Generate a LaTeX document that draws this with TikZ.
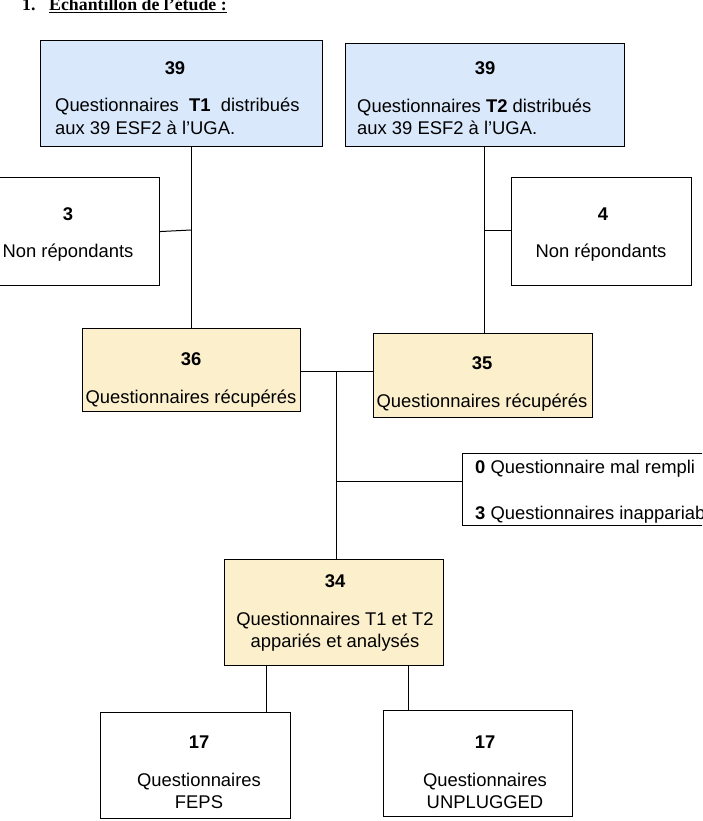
\documentclass[tikz,border=0pt]{standalone}
\usepackage{fontspec}
\setmainfont{Liberation Sans}
\newfontfamily\titlefont{Liberation Serif}
\usetikzlibrary{positioning}
\definecolor{boxblue}{HTML}{DAE8FC}
\definecolor{boxtan}{HTML}{FCEFCC}
\newcommand\boxsize{\fontsize{18.4}{23}\selectfont}
\tikzset{
  box/.style={draw, line width=1.1pt, inner sep=0pt, anchor=north west},
  bluebox/.style={box, fill=boxblue},
  tanbox/.style={box, fill=boxtan},
  txt/.style={anchor=base, inner sep=0pt, font=\boxsize},
  ltxt/.style={anchor=base west, inner sep=0pt, font=\boxsize},
  num/.style={txt, font=\boxsize\bfseries},
  link/.style={line width=1pt}
}
\begin{document}
\begin{tikzpicture}[x=1pt, y=-1pt]
  \useasboundingbox (0,0) rectangle (702,821);
  \clip (0,0) rectangle (702,821);
  \node[ltxt, font=\titlefont\bfseries\fontsize{17.8}{23}\selectfont] (titlenum) at (22,11) {1.};
  \node[ltxt, font=\titlefont\bfseries\fontsize{17.8}{23}\selectfont] (title) at (49,11) {\underline{Échantillon de l’étude :}};

  \node[bluebox, minimum width=282, minimum height=106] (t1) at (40,40) {};
  \node[num] (t1num) at (175,75) {39};
  \node[ltxt] (t1a) at (55,112) {Questionnaires\ \ \textbf{T1}\ \ distribués};
  \node[ltxt] (t1b) at (55,135) {aux 39 ESF2 à l’UGA.};

  \node[bluebox, minimum width=279, minimum height=103] (t2) at (345,43) {};
  \node[num] (t2num) at (485,75) {39};
  \node[ltxt] (t2a) at (357,113) {Questionnaires \textbf{T2} distribués};
  \node[ltxt] (t2b) at (357,135) {aux 39 ESF2 à l’UGA.};

  \node[box, minimum width=161, minimum height=108] (nr1) at (-2,177) {};
  \node[num] (nr1num) at (68,220) {3};
  \node[txt] (nr1txt) at (68,257) {Non répondants};

  \node[box, minimum width=180, minimum height=108] (nr2) at (511,177) {};
  \node[num] (nr2num) at (603,220) {4};
  \node[txt] (nr2txt) at (601,257) {Non répondants};

  \node[tanbox, minimum width=218, minimum height=83] (r36) at (82,328) {};
  \node[num] (r36num) at (191,365) {36};
  \node[txt] (r36txt) at (191,403) {Questionnaires récupérés};

  \node[tanbox, minimum width=219, minimum height=84] (r35) at (373,333) {};
  \node[num] (r35num) at (482,369) {35};
  \node[txt] (r35txt) at (482,407) {Questionnaires récupérés};

  \node[box, minimum width=320, minimum height=72] (excl) at (462,453) {};
  \node[ltxt] (excla) at (475,473) {\textbf{0} Questionnaire mal rempli};
  \node[ltxt] (exclb) at (475,519) {\textbf{3} Questionnaires inappariables};

  \node[tanbox, minimum width=219, minimum height=106] (a34) at (224,559) {};
  \node[num] (a34num) at (335,587) {34};
  \node[txt] (a34a) at (335,625) {Questionnaires T1 et T2};
  \node[txt] (a34b) at (335,647) {appariés et analysés};

  \node[box, minimum width=190, minimum height=106] (feps) at (100,712) {};
  \node[num] (fepsnum) at (199,748) {17};
  \node[txt] (fepsa) at (199,786) {Questionnaires};
  \node[txt] (fepsb) at (199,808) {FEPS};

  \node[box, minimum width=189, minimum height=106] (unp) at (383,710) {};
  \node[num] (unpnum) at (485,748) {17};
  \node[txt] (unpa) at (485,786) {Questionnaires};
  \node[txt] (unpb) at (485,808) {UNPLUGGED};

  \coordinate (j1) at (191,230);
  \coordinate (j2) at (484,230);
  \coordinate (j3) at (336,371);
  \coordinate (j4) at (336,481);

  \draw[link] (t1.south -| j1) -- (r36.north -| j1);
  \draw[link] (nr1.east) -- (j1);
  \draw[link] (t2.south -| j2) -- (r35.north -| j2);
  \draw[link] (j2) -- (nr2.west |- j2);
  \draw[link] (r36.east |- j3) -- (r35.west |- j3);
  \draw[link] (j3) -- (a34.north -| j3);
  \draw[link] (j4) -- (excl.west |- j4);
  \draw[link] ([xshift=-68]a34.south) -- ([xshift=-68]a34.south |- feps.north);
  \draw[link] ([xshift=74]a34.south) -- ([xshift=74]a34.south |- unp.north);
\end{tikzpicture}
\end{document}
